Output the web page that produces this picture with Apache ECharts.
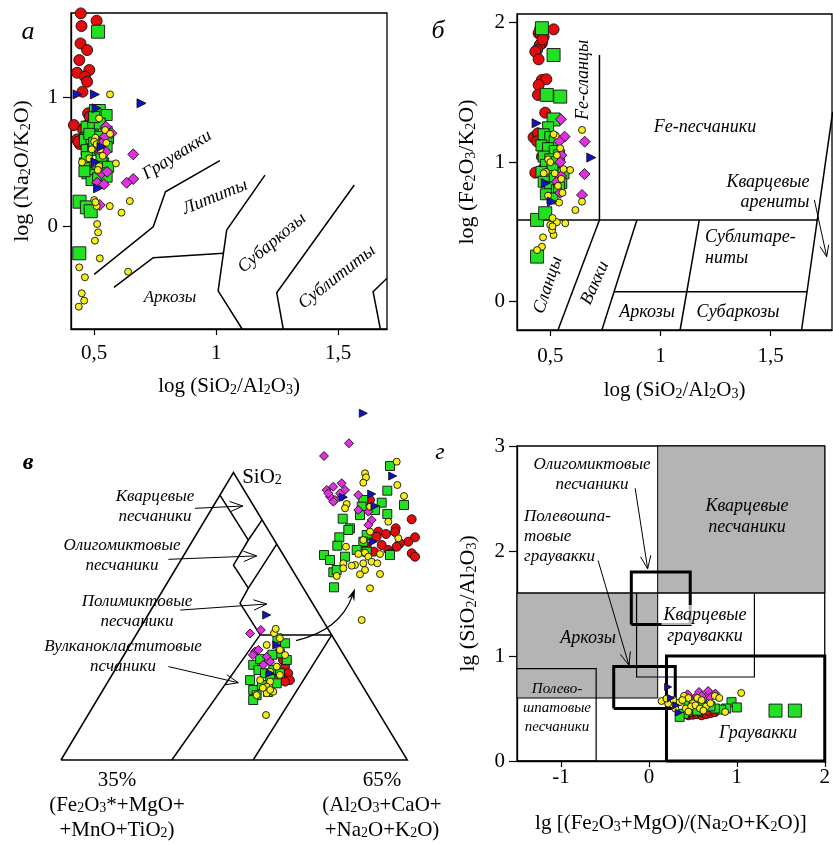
<!DOCTYPE html>
<html><head><meta charset="utf-8">
<script src="https://cdn.jsdelivr.net/npm/echarts@6/dist/echarts.min.js"></script>
<style>html,body{margin:0;padding:0;background:#fff}#c{width:833px;height:845px}</style>
</head><body><div id="c"></div>
<script>
// ---------------- DATA ----------------
// Panel а: log(SiO2/Al2O3) vs log(Na2O/K2O)
const A_red = [[0.445,1.654],[0.51,1.597],[0.448,1.556],[0.444,1.421],[0.471,1.37],[0.439,1.292],[0.43,1.194],[0.48,1.215],[0.462,1.163],[0.471,1.124],[0.452,1.047],[0.475,0.879],[0.417,0.788],[0.466,0.781],[0.43,0.677],[0.441,0.641],[0.455,0.75],[0.482,0.853],[0.46,0.70],[0.435,0.66]];
const A_greenBig = [[0.516,1.512],[0.44,0.194],[0.47,0.15],[0.486,0.12],[0.439,-0.206]];
const A_green = [[0.503,0.905],[0.523,0.905],[0.551,0.866],[0.469,0.775],[0.496,0.785],[0.523,0.80],[0.551,0.737],[0.462,0.672],[0.489,0.685],[0.516,0.698],[0.557,0.685],[0.469,0.594],[0.496,0.594],[0.523,0.607],[0.551,0.62],[0.462,0.491],[0.482,0.465],[0.51,0.478],[0.537,0.491],[0.557,0.465],[0.472,0.414],[0.503,0.401],[0.53,0.414],[0.489,0.362],[0.516,0.375],[0.551,0.388],[0.48,0.72],[0.5,0.65],[0.47,0.54],[0.53,0.55],[0.5,0.85],[0.46,0.43]];
const A_yellow = [[0.565,1.026],[0.5,0.207],[0.51,0.16],[0.564,0.16],[0.612,0.109],[0.646,0.199],[0.512,0.021],[0.516,-0.044],[0.503,-0.108],[0.523,-0.245],[0.439,-0.315],[0.462,-0.392],[0.639,-0.349],[0.449,-0.516],[0.459,-0.573],[0.437,-0.62],[0.589,0.491],[0.52,0.84],[0.505,0.69],[0.5,0.66],[0.51,0.64],[0.525,0.6],[0.45,0.5],[0.495,0.49],[0.52,0.47],[0.515,0.44],[0.48,0.53],[0.545,0.75],[0.565,0.72],[0.535,0.55],[0.49,0.6],[0.55,0.65],[0.505,0.19]];
const A_mag = [[0.66,0.561],[0.66,0.37],[0.633,0.341],[0.523,0.168],[0.548,0.775],[0.571,0.724],[0.537,0.659],[0.548,0.581],[0.53,0.414],[0.553,0.426],[0.512,0.341],[0.54,0.329],[0.545,0.7],[0.52,0.6]];
const A_blue = [[0.432,1.026],[0.503,1.026],[0.694,0.957],[0.51,0.918],[0.516,0.298],[0.505,0.5],[0.53,0.62]];
const A_xTicks = [0.5,1,1.5];
const A_yTicks = [0,1];

// Panel б: log(SiO2/Al2O3) vs log(Fe2O3/K2O)
const B_red = [[0.447,2.067],[0.455,1.96],[0.515,1.952],[0.447,1.924],[0.47,1.9],[0.462,1.852],[0.452,1.84],[0.44,1.804],[0.432,1.792],[0.447,1.737],[0.462,1.589],[0.482,1.594],[0.447,1.553],[0.444,1.482],[0.477,1.355],[0.424,1.178],[0.444,1.207],[0.477,1.13],[0.432,0.925],[0.47,0.956],[0.462,1.039],[0.44,1.15],[0.455,1.92],[0.465,1.88]];
const B_greenBig = [[0.462,1.96],[0.515,1.768],[0.484,1.482],[0.545,1.47],[0.515,1.306],[0.44,0.586],[0.477,0.634],[0.44,0.323]];
const B_green = [[0.49,1.25],[0.47,1.2],[0.5,1.18],[0.52,1.15],[0.46,1.12],[0.49,1.1],[0.52,1.08],[0.54,1.05],[0.47,1.04],[0.5,1.02],[0.53,1.0],[0.48,0.98],[0.51,0.95],[0.46,0.93],[0.49,0.9],[0.52,0.88],[0.55,0.85],[0.47,0.86],[0.5,0.82],[0.53,0.8],[0.48,0.77],[0.51,0.74],[0.54,0.82],[0.56,0.92]];
const B_yellow = [[0.644,1.231],[0.644,0.717],[0.614,0.657],[0.568,0.562],[0.53,0.57],[0.467,0.461],[0.515,0.478],[0.462,0.394],[0.44,0.37],[0.59,0.944],[0.508,0.513],[0.51,0.6],[0.5,0.55],[0.525,1.19],[0.515,1.2],[0.545,1.1],[0.53,1.05],[0.49,1.02],[0.5,1.0],[0.48,0.93],[0.52,0.92],[0.55,0.88],[0.535,0.83],[0.56,0.95],[0.49,0.76],[0.54,0.71],[0.555,0.78],[0.47,0.92],[0.51,0.54]];
const B_mag = [[0.548,1.307],[0.565,1.183],[0.656,1.147],[0.655,0.915],[0.644,0.765],[0.54,1.15],[0.55,1.05],[0.545,1.0],[0.53,0.86],[0.545,0.78],[0.55,0.9]];
const B_blue = [[0.438,1.279],[0.686,1.033],[0.508,0.717],[0.48,0.85]];
const B_xTicks = [0.5,1,1.5];
const B_yTicks = [0,1,2];

// Panel в: ternary diagram, projected positions (% of base / % of height)
const V_red = [[64.7,32.4],[65.6,30.1],[63.7,28.9],[66.1,27.7],[64.7,27.2],[62.7,30.6],[64.1,34.7]];
const V_green = [[62.5,42.2],[64.7,40.5],[63.2,37.0],[65.2,34.7],[55.5,33.0],[57.0,31.2],[54.6,27.7],[55.5,24.3],[56.5,22.5],[55.5,20.8],[58.9,30.1],[60.4,28.9],[61.3,31.2],[63.2,30.1],[62.3,26.6],[58.0,26.0],[59.8,23.6],[57.5,35.0],[61.0,36.5]];
const V_yellow = [[63.2,42.2],[59.4,39.9],[63.2,38.2],[64.7,36.4],[62.3,32.4],[60.4,30.6],[57.5,27.7],[60.4,27.2],[59.4,25.4],[61.3,23.7],[59.4,23.1],[56.5,22.5],[59.2,15.6],[63.2,29.5],[58.3,25.0],[60.4,24.3],[61.5,44.0],[62.0,45.5]];
const V_mag = [[54.6,43.9],[57.7,45.1],[56.0,37.6],[57.0,38.2],[55.4,36.4],[59.4,35.8],[60.4,34.1],[58.4,33.0]];
const V_blue = [[59.4,50.3],[62.3,39.9],[60.4,30.1]];
// enlarged cluster (inset)
const I_red = [[111.7,119.3],[95.7,128.3],[95,132],[78.3,131.7],[86,134],[115,137.3],[108.3,141.7],[76.7,136.7],[100,143.3],[81.7,145],[96.7,146.7],[66.7,146.7],[88.3,150],[90,153.3],[111.7,153.3],[115,156.7],[74,151.7],[70,100]];
const I_green = [[90,66],[87.3,90.7],[81.7,102.7],[104,105],[87.3,114],[63.3,100],[61.7,106.7],[60,115],[42.7,118.7],[50,128.3],[48.3,130],[39.3,137.3],[37.3,145.7],[66.7,135],[63.3,141.7],[56.7,150],[66.7,151.7],[90,155],[24,155],[30,160],[45,156.7],[33.3,172.3],[36.7,170],[34,187.3],[75,110]];
const I_yellow = [[96.7,61.7],[65,73.3],[66,77.3],[63.3,82.7],[97.3,85],[104,96],[46.7,104],[45,108.3],[70,106.7],[88.3,121.7],[70,131.7],[46,146.7],[63.3,140],[58.3,154],[65,152.7],[68.3,156.7],[71.7,161.7],[63.3,163.3],[55,165],[51.7,165.7],[43.3,163.3],[43.3,168.3],[80,154],[77.3,163.3],[65,170],[60,174.3],[80,174],[36.7,176],[70,188.3],[98.3,138.3],[61.7,220]];
const I_mag = [[49,43.3],[24,56],[26.7,90],[33.3,86.7],[41.7,83.3],[45,90],[30,96.7],[35,100],[41.7,96.7],[58.3,95],[58.3,110],[68.3,111.7],[71.7,120],[68.3,125],[40,93.3],[28.3,93.3],[33.3,101.7]];
const I_blue = [[63.3,13.3],[92.7,76],[71.7,94],[43.3,97.3],[75,106],[73.3,141.7]];

// Panel г: lg[(Fe2O3+MgO)/(Na2O+K2O)] vs lg(SiO2/Al2O3)
const G_red = [[0.38,0.44],[0.45,0.43],[0.5,0.435],[0.55,0.44],[0.6,0.43],[0.65,0.44],[0.7,0.45],[0.75,0.46],[0.68,0.47],[0.58,0.46],[0.48,0.46],[0.42,0.47]];
const G_greenBig = [[1.44,0.48],[1.66,0.48]];
const G_green = [[0.94,0.56],[1.0,0.51],[0.88,0.5],[0.82,0.49],[0.75,0.5],[0.4,0.45],[0.5,0.5],[0.6,0.52],[0.45,0.55],[0.55,0.48],[0.35,0.42],[0.7,0.52]];
const G_yellow = [[1.05,0.648],[0.144,0.571],[0.219,0.547],[0.2,0.594],[0.28,0.58],[0.35,0.56],[0.4,0.62],[0.45,0.6],[0.5,0.55],[0.55,0.6],[0.6,0.58],[0.65,0.52],[0.7,0.55],[0.75,0.62],[0.8,0.6],[0.867,0.467],[0.3,0.5],[0.42,0.5],[0.48,0.52],[0.53,0.53],[0.58,0.5],[0.38,0.58],[0.62,0.48],[0.45,0.47]];
const G_mag = [[0.44,0.635],[0.57,0.657],[0.674,0.667],[0.756,0.642],[0.644,0.61],[0.52,0.6],[0.6,0.62],[0.7,0.6],[0.48,0.58]];
const G_blue = [[0.219,0.705],[0.311,0.53],[0.34,0.46],[0.25,0.6]];
const G_xTicks = [-1,0,1,2];
const G_yTicks = [0,1,2,3];

// ---------------- DIAGRAM STRUCTURE ----------------
const A_lines = [
  [[0.5,-0.369],[0.742,0],[0.792,0.271],[1.015,0.512]],
  [[0.581,-0.47],[0.742,-0.24],[1.03,-0.206]],
  [[1.2,0.4],[1.043,-0.026],[1.008,-0.498],[1.107,-0.795]],
  [[1.566,0.323],[1.248,-0.512],[1.275,-0.795]],
  [[1.70,-0.40],[1.643,-0.504],[1.673,-0.795]]
];
const B_lines = [
  [[0.349,0.586],[1.712,0.586]],
  [[1.781,1.36],[1.640,-0.203]],
  [[0.723,0.586],[0.723,1.768]],
  [[0.723,0.586],[0.535,-0.203]],
  [[0.893,0.586],[0.734,-0.203]],
  [[0.789,0.072],[1.665,0.072]],
  [[1.176,0.586],[1.089,-0.203]]
];
const B_arrows = [[1.698,0.729,1.754,0.323]];
const V_lines = [
  [[0,0],[100,0],[49.8,99.7],[0,0]],
  [[45.9,91.9],[54.1,76.3]],
  [[58.0,83.2],[54.1,76.3],[49.8,67.6],[54.1,59.6]],
  [[62.3,74.9],[54.1,59.6],[51.7,54.4],[57.5,43.4]],
  [[57.5,43.4],[78.2,43.4]],
  [[78.2,43.4],[55.5,0]],
  [[57.5,43.4],[32.0,0]]
];
const V_arrows = [[38.7,87.3,52.5,88.1],[31.0,69.6,56.5,70.8],[34.4,52.0,59.4,54.1],[31.0,32.4,51.2,26.8]];
const V_curve = [[67.9,41.4,80.6,45.1,84.9,59.5]];
const G_gray = [[[0.1,1.6],[2,1.6],[2,3],[0.1,3]],[[-1.5,0.6],[0.1,0.6],[0.1,1.6],[-1.5,1.6]]];
const G_thin = [
  [[-1.5,0],[-0.6,0],[-0.6,0.88],[-1.5,0.88]],
  [[-0.14,1.6],[-0.14,0.8],[1.2,0.8],[1.2,1.6]],
  [[-1.5,1.6],[2,1.6]]
];
const G_thick = [
  [[-0.2,1.3],[0.47,1.3],[0.47,1.8],[-0.2,1.8],[-0.2,1.3]],
  [[-0.4,0.5],[0.3,0.5],[0.3,0.9],[-0.4,0.9],[-0.4,0.5]],
  [[0.2,0],[0.2,1.0],[2,1.0],[2,0],[0.2,0]]
];
const G_arrows = [[-0.156,2.597,-0.014,1.83],[-0.578,1.91,-0.226,0.911]];

// ---------------- HELPERS ----------------
const FONT = '"Liberation Serif","Times New Roman",serif';
function fmt(s){let o='',b='';for(let i=0;i<s.length;i++){if(s[i]==='_'){if(b)o+='{n|'+b+'}';b='';o+='{s|'+s[i+1]+'}';i++;}else b+=s[i];}if(b)o+='{n|'+b+'}';return o;}
function rich(sz,it){const fs=it?'italic':'normal';return {n:{fontFamily:FONT,fontSize:sz,fontStyle:fs,color:'#000'},s:{fontFamily:FONT,fontSize:Math.round(sz*0.65),fontStyle:fs,color:'#000',verticalAlign:'bottom'}};}
const STY = {
  red:{symbol:'circle',color:'#e30b0b'},
  green:{symbol:'rect',color:'#22e022'},
  yellow:{symbol:'circle',color:'#f5ee1a'},
  mag:{symbol:'diamond',color:'#e030e0'},
  blue:{symbol:'triangle',color:'#1010c8',rot:-90}
};
function sc(ax,data,k,size){const s=STY[k];return {type:'scatter',xAxisIndex:ax,yAxisIndex:ax,data,symbol:s.symbol,symbolSize:size,symbolRotate:s.rot||0,silent:true,z:5,itemStyle:{color:s.color,borderColor:'#111',borderWidth:0.9,opacity:1}};}
function polyS(ax,lines,w,z){return {type:'custom',xAxisIndex:ax,yAxisIndex:ax,clip:false,silent:true,z:z||3,data:lines.map((l,i)=>[l[0][0],l[0][1],i]),
  renderItem:(p,api)=>({type:'polyline',shape:{points:lines[p.dataIndex].map(q=>api.coord(q))},style:{stroke:'#000',lineWidth:w,fill:null}})};}
function fillS(ax,polys){return {type:'custom',xAxisIndex:ax,yAxisIndex:ax,clip:false,silent:true,z:1,data:polys.map((l,i)=>[l[0][0],l[0][1],i]),
  renderItem:(p,api)=>({type:'polygon',shape:{points:polys[p.dataIndex].map(q=>api.coord(q))},style:{fill:'#b4b4b4',stroke:'#000',lineWidth:1}})};}
function arrowS(ax,arr,w,hl){return {type:'custom',xAxisIndex:ax,yAxisIndex:ax,clip:false,silent:true,z:4,data:arr,
  renderItem:(p,api)=>{const a=api.coord([api.value(0),api.value(1)]),b=api.coord([api.value(2),api.value(3)]);
    const ang=Math.atan2(b[1]-a[1],b[0]-a[0]),d=0.38;
    const h1=[b[0]-hl*Math.cos(ang-d),b[1]-hl*Math.sin(ang-d)],h2=[b[0]-hl*Math.cos(ang+d),b[1]-hl*Math.sin(ang+d)];
    return {type:'group',children:[{type:'line',shape:{x1:a[0],y1:a[1],x2:b[0],y2:b[1]},style:{stroke:'#000',lineWidth:w}},
      {type:'polyline',shape:{points:[h1,b,h2]},style:{stroke:'#000',lineWidth:w,fill:null}}]};}};}
function curveS(ax,arr){return {type:'custom',xAxisIndex:ax,yAxisIndex:ax,clip:false,silent:true,z:4,data:arr,
  renderItem:(p,api)=>{const a=api.coord([api.value(0),api.value(1)]),c=api.coord([api.value(2),api.value(3)]),b=api.coord([api.value(4),api.value(5)]);
    const ang=Math.atan2(b[1]-c[1],b[0]-c[0]),hl=13,d=0.3;
    const h1=[b[0]-hl*Math.cos(ang-d),b[1]-hl*Math.sin(ang-d)],h2=[b[0]-hl*Math.cos(ang+d),b[1]-hl*Math.sin(ang+d)];
    const e=[b[0]-8*Math.cos(ang),b[1]-8*Math.sin(ang)];
    return {type:'group',children:[{type:'bezierCurve',shape:{x1:a[0],y1:a[1],cpx1:c[0],cpy1:c[1],x2:e[0],y2:e[1]},style:{stroke:'#000',lineWidth:1.2,fill:null}},
      {type:'polygon',shape:{points:[h1,b,h2,e]},style:{fill:'#000'}}]};}};}
function xAx(g,min,max,ticks,name,gap,margin){return {gridIndex:g,type:'value',min,max,splitLine:{show:false},
  axisLine:{onZero:false,lineStyle:{color:'#000',width:1.3}},
  axisTick:{show:true,customValues:ticks,length:6,lineStyle:{color:'#000',width:1.2}},
  axisLabel:{customValues:ticks,formatter:v=>String(v).replace('.',','),fontFamily:FONT,fontSize:21,color:'#000',margin:margin},
  name:fmt(name),nameLocation:'middle',nameGap:gap,nameTextStyle:{rich:rich(21,false)}};}
function yAx(g,min,max,ticks,name,gap,margin){return {gridIndex:g,type:'value',min,max,splitLine:{show:false},
  axisLine:{onZero:false,lineStyle:{color:'#000',width:1.3}},
  axisTick:{show:true,customValues:ticks,length:8,lineStyle:{color:'#000',width:1.2}},
  axisLabel:{customValues:ticks,formatter:v=>String(v).replace('.',','),fontFamily:FONT,fontSize:21,color:'#000',margin:margin},
  name:fmt(name),nameLocation:'middle',nameRotate:90,nameGap:gap,nameTextStyle:{rich:rich(22,false)}};}
function hid(g,min,max,inv){return {gridIndex:g,type:'value',min,max,show:false,inverse:!!inv};}
function T(text,x,y,o){o=o||{};const sz=o.size||18;const it=o.italic!==false;
  const st={x:0,y:0,align:o.align||'center',verticalAlign:'middle',fill:'#000',font:(it?'italic ':'')+(o.bold?'bold ':'')+sz+'px '+FONT};
  if(o.bg){st.backgroundColor=o.bg;st.padding=[1,2];}
  if(o.rich){st.text=fmt(text);st.rich=rich(sz,it);}else st.text=text;
  return {type:'text',x,y,rotation:(o.rot||0)*Math.PI/180,z:100,silent:true,style:st};}

// ---------------- OPTION ----------------
const gridBox={show:true,borderColor:'#000',borderWidth:1.3,backgroundColor:'rgba(0,0,0,0)'};
const option = {
  animation:false, backgroundColor:'#fff',
  grid:[
    Object.assign({left:71,top:13,width:316,height:316},gridBox),
    Object.assign({left:517,top:14,width:315,height:316},gridBox),
    {left:61,top:471.7,width:346.3,height:288.3,show:false},
    {left:300,top:400,width:130,height:230,show:false},
    Object.assign({left:517,top:446,width:315,height:315},gridBox)
  ],
  xAxis:[
    xAx(0,0.405,1.70,A_xTicks,'log (SiO_2/Al_2O_3)',47,14),
    xAx(1,0.349,1.778,B_xTicks,'log (SiO_2/Al_2O_3)',50,16),
    hid(2,0,100), hid(3,0,130),
    xAx(4,-1.5,2,G_xTicks,'lg [(Fe_2O_3+MgO)/(Na_2O+K_2O)]',52,6)
  ],
  yAxis:[
    yAx(0,-0.793,1.657,A_yTicks,'log (Na_2O/K_2O)',38,13),
    yAx(1,-0.203,2.062,B_yTicks,'log (Fe_2O_3/K_2O)',39,12),
    hid(2,0,100), hid(3,0,230,true),
    yAx(4,0,3,G_yTicks,'lg (SiO_2/Al_2O_3)',38,12)
  ],
  series:[
    polyS(0,A_lines,1.5),
    sc(0,A_red,'red',11), sc(0,A_greenBig,'green',13), sc(0,A_green,'green',11), sc(0,A_mag,'mag',11), sc(0,A_yellow,'yellow',7), sc(0,A_blue,'blue',9),
    polyS(1,B_lines,1.5), arrowS(1,B_arrows,1,12),
    sc(1,B_red,'red',11), sc(1,B_greenBig,'green',13), sc(1,B_green,'green',11), sc(1,B_mag,'mag',11), sc(1,B_yellow,'yellow',7), sc(1,B_blue,'blue',9),
    polyS(2,V_lines,1.5), arrowS(2,V_arrows,1,14), curveS(2,V_curve),
    sc(2,V_red,'red',9), sc(2,V_green,'green',9), sc(2,V_mag,'mag',9), sc(2,V_yellow,'yellow',7), sc(2,V_blue,'blue',8),
    sc(3,I_red,'red',9), sc(3,I_green,'green',9), sc(3,I_mag,'mag',9), sc(3,I_yellow,'yellow',7), sc(3,I_blue,'blue',8),
    fillS(4,G_gray), polyS(4,G_thin,1.2,2), polyS(4,G_thick,3,3), arrowS(4,G_arrows,1,14),
    sc(4,G_red,'red',8), sc(4,G_greenBig,'green',13), sc(4,G_green,'green',9), sc(4,G_mag,'mag',9), sc(4,G_yellow,'yellow',7), sc(4,G_blue,'blue',7)
  ],
  graphic:[
    T('а',28,32,{size:26}), T('б',438,31,{size:26}), T('в',28,463,{size:24,bold:true}), T('г',440,453,{size:24}),
    // а
    T('Граувакки',177,155,{rot:32}), T('Лититы',215,197,{rot:22}), T('Субаркозы',272,243,{rot:40}), T('Сублититы',337,277,{rot:38}), T('Аркозы',170,298,{size:17}),
    // б
    T('Fe-сланцы',583,80,{rot:90}), T('Fe-песчаники',705,127), T('Кварцевые',768,182), T('арениты',775,202),
    T('Сублитаре-',705,237,{align:'left'}), T('ниты',705,258,{align:'left'}),
    T('Сланцы',548,285,{rot:72}), T('Вакки',595,283,{rot:66}), T('Аркозы',647,312), T('Субаркозы',738,312),
    // в
    T('Кварцевые',155,497,{size:17}), T('песчаники',155,517,{size:17}),
    T('Олигомиктовые',122,546,{size:17}), T('песчаники',122,566,{size:17}),
    T('Полимиктовые',137,602,{size:17}), T('песчаники',137,622,{size:17}),
    T('Вулканокластитовые',123,647,{size:17}), T('псчаники',123,667,{size:17}),
    T('SiO_2',262,477,{size:21,italic:false,rich:true}),
    T('35%',117,780,{size:21,italic:false}), T('(Fe_2O_3*+MgO+',117,805,{size:21,italic:false,rich:true}), T('+MnO+TiO_2)',117,830,{size:21,italic:false,rich:true}),
    T('65%',382,780,{size:21,italic:false}), T('(Al_2O_3+CaO+',382,805,{size:21,italic:false,rich:true}), T('+Na_2O+K_2O)',382,830,{size:21,italic:false,rich:true}),
    // г
    T('Олигомиктовые',592,465,{size:17}), T('песчаники',592,485,{size:17}),
    T('Кварцевые',747,506,{size:18}), T('песчаники',747,527,{size:18}),
    T('Полевошпа-',524,517,{size:17,align:'left'}), T('товые',524,537,{size:17,align:'left'}), T('граувакки',524,557,{size:17,align:'left'}),
    T('Аркозы',588,638,{size:18}), T('Кварцевые',705,615,{size:18,bg:'rgba(255,255,255,0.7)'}), T('граувакки',705,636,{size:18}),
    T('Полево-',557,689,{size:15}), T('шпатовые',557,708,{size:15}), T('песчаники',557,727,{size:15}),
    T('Граувакки',758,733,{size:18})
  ]
};
const chart = echarts.init(document.getElementById('c'),null,{renderer:'canvas'});
chart.setOption(option);
</script></body></html>
